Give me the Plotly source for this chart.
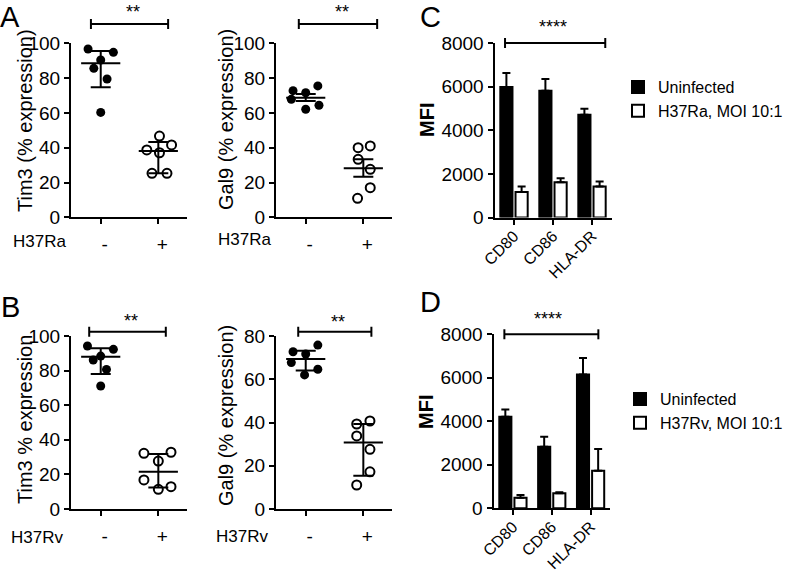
import plotly.graph_objects as go

W, H = 790, 572
FONT = "Liberation Sans, Arial, Helvetica, sans-serif"


def fx(p):
    return p / W


def fy(p):
    return 1 - p / H


# ---------------- data ----------------
groups = ["-", "+"]

# Panel A (H37Ra) - Tim3 (% expression), median with interquartile range
a_tim3_neg = [96.7, 94.8, 90.4, 85.6, 79.5, 60.3]
a_tim3_pos = [46.7, 38.7, 41.6, 37.1, 25.3, 25.3]
a_tim3_center = [88.5, 38.1]
a_tim3_low = [74.7, 25.3]
a_tim3_high = [95.6, 43.3]

# Panel A (H37Ra) - Gal9 (% expression), mean with SEM
a_gal9_neg = [72.8, 71.6, 75.5, 67.8, 64.4, 62.1]
a_gal9_pos = [40.0, 41.0, 33.3, 27.6, 17.0, 10.9]
a_gal9_center = [68.7, 28.2]
a_gal9_low = [66.8, 23.3]
a_gal9_high = [70.9, 33.3]

# Panel B (H37Rv) - Tim3 % expression
b_tim3_neg = [94.2, 92.3, 88.4, 86.1, 80.7, 71.1]
b_tim3_pos = [32.2, 32.8, 27.7, 16.8, 12.9, 11.4]
b_tim3_center = [88.0, 21.6]
b_tim3_low = [78.0, 12.5]
b_tim3_high = [92.9, 31.8]

# Panel B (H37Rv) - Gal9 (% expression)
b_gal9_neg = [72.7, 71.7, 75.8, 67.7, 64.6, 62.0]
b_gal9_pos = [39.3, 40.7, 33.8, 27.6, 17.2, 11.1]
b_gal9_center = [69.4, 30.7]
b_gal9_low = [64.0, 15.4]
b_gal9_high = [73.2, 39.3]

# horizontal scatter spread of the points (category units)
a_tim3_neg_spread = [-0.22, 0.22, 0.0, -0.12, 0.11, 0.0]
a_tim3_pos_spread = [0.02, -0.2, 0.23, 0.02, -0.11, 0.15]
a_gal9_neg_spread = [-0.22, 0.0, 0.21, -0.25, 0.23, 0.0]
a_gal9_pos_spread = [-0.09, 0.12, -0.09, 0.12, 0.12, -0.1]
b_tim3_neg_spread = [-0.23, 0.22, 0.0, -0.13, 0.10, 0.0]
b_tim3_pos_spread = [-0.25, 0.22, 0.0, -0.25, 0.22, 0.0]
b_gal9_neg_spread = [-0.22, 0.0, 0.21, -0.25, 0.21, -0.02]
b_gal9_pos_spread = [-0.115, 0.115, -0.115, 0.115, 0.115, -0.115]

# Panels C and D - MFI
markers = ["CD80", "CD86", "HLA-DR"]
c_uninf = [5980, 5810, 4710]
c_uninf_err = [640, 535, 275]
c_h37ra = [1165, 1620, 1420]
c_h37ra_err = [260, 185, 230]

d_uninf = [4206, 2830, 6150]
d_uninf_err = [340, 460, 765]
d_h37rv = [490, 690, 1730]
d_h37rv_err = [120, 50, 1000]

# ---------------- figure ----------------
fig = go.Figure()

dot_axes = {
    # name: (xaxis, yaxis, x domain px, y domain px (top,bottom), ymax, dtick)
    "a_tim3": ("x", "y", (71, 187.3), (43.3, 217.3), 100, 20),
    "a_gal9": ("x2", "y2", (276, 392.3), (43.3, 217.3), 100, 20),
    "b_tim3": ("x3", "y3", (71, 187.3), (336, 509), 100, 20),
    "b_gal9": ("x4", "y4", (276, 392.3), (336, 509), 80, 20),
}

dot_data = {
    "a_tim3": (a_tim3_neg, a_tim3_pos, a_tim3_neg_spread, a_tim3_pos_spread,
               a_tim3_center, a_tim3_low, a_tim3_high),
    "a_gal9": (a_gal9_neg, a_gal9_pos, a_gal9_neg_spread, a_gal9_pos_spread,
               a_gal9_center, a_gal9_low, a_gal9_high),
    "b_tim3": (b_tim3_neg, b_tim3_pos, b_tim3_neg_spread, b_tim3_pos_spread,
               b_tim3_center, b_tim3_low, b_tim3_high),
    "b_gal9": (b_gal9_neg, b_gal9_pos, b_gal9_neg_spread, b_gal9_pos_spread,
               b_gal9_center, b_gal9_low, b_gal9_high),
}

axis_common = dict(
    showline=True, linewidth=2, linecolor="black", mirror=False,
    ticks="outside", ticklen=5, tickwidth=2, tickcolor="black",
    showgrid=False, zeroline=False, fixedrange=True, automargin=False,
)

layout_axes = {}
for key, (xa, ya, (x0, x1), (ytop, ybot), ymax, dt) in dot_axes.items():
    neg, pos, nsp, psp, cen, lo, hi = dot_data[key]
    fig.add_trace(go.Scatter(
        x=[0 + s for s in nsp], y=neg, mode="markers",
        marker=dict(color="black", size=9, line=dict(width=0)),
        xaxis=xa, yaxis=ya, showlegend=False, hoverinfo="y"))
    fig.add_trace(go.Scatter(
        x=[1 + s for s in psp], y=pos, mode="markers",
        marker=dict(color="white", size=9, line=dict(color="black", width=2)),
        xaxis=xa, yaxis=ya, showlegend=False, hoverinfo="y"))
    for i in range(2):
        fig.add_trace(go.Scatter(
            x=[i - 0.34, i + 0.34], y=[cen[i], cen[i]], mode="lines",
            line=dict(color="black", width=2),
            xaxis=xa, yaxis=ya, showlegend=False, hoverinfo="skip"))
        fig.add_trace(go.Scatter(
            x=[i], y=[cen[i]], mode="markers",
            marker=dict(size=1, color="rgba(0,0,0,0)"),
            error_y=dict(type="data", symmetric=False,
                         array=[hi[i] - cen[i]], arrayminus=[cen[i] - lo[i]],
                         color="black", thickness=2, width=10),
            xaxis=xa, yaxis=ya, showlegend=False, hoverinfo="skip"))
    xname = "xaxis" if xa == "x" else "xaxis" + xa[1:]
    yname = "yaxis" if ya == "y" else "yaxis" + ya[1:]
    layout_axes[xname] = dict(
        axis_common, domain=[fx(x0), fx(x1)], range=[-0.516, 1.503],
        tickvals=[0, 1], ticktext=groups, anchor=ya,
        tickfont=dict(size=19, family=FONT, color="black"),
        ticklabelshift=4, ticklabelstandoff=4)
    layout_axes[yname] = dict(
        axis_common, domain=[fy(ybot), fy(ytop)], range=[0, ymax],
        dtick=dt, tick0=0, anchor=xa,
        tickfont=dict(size=19, family=FONT, color="black"))

# bar panels
bar_panels = [
    ("x5", "y5", (494.5, 611.5), (43, 217.5), c_uninf, c_uninf_err,
     c_h37ra, c_h37ra_err, "H37Ra, MOI 10:1", "legend"),
    ("x6", "y6", (493.5, 610), (334.3, 508.3), d_uninf, d_uninf_err,
     d_h37rv, d_h37rv_err, "H37Rv, MOI 10:1", "legend2"),
]
for xa, ya, (x0, x1), (ytop, ybot), u, ue, inf, ie, inf_name, lg in bar_panels:
    fig.add_trace(go.Bar(
        x=markers, y=u, name="Uninfected",
        marker=dict(color="black", line=dict(color="black", width=2)),
        error_y=dict(type="data", symmetric=False, array=ue,
                     arrayminus=[0] * len(ue), color="black",
                     thickness=2, width=4),
        xaxis=xa, yaxis=ya, legend=lg))
    fig.add_trace(go.Bar(
        x=markers, y=inf, name=inf_name,
        marker=dict(color="white", line=dict(color="black", width=2)),
        error_y=dict(type="data", symmetric=False, array=ie,
                     arrayminus=[0] * len(ie), color="black",
                     thickness=2, width=4),
        xaxis=xa, yaxis=ya, legend=lg))
    layout_axes["xaxis" + xa[1:]] = dict(
        axis_common, domain=[fx(x0), fx(x1)], type="category",
        range=[-0.5, 2.5], tickangle=-45, anchor=ya,
        ticklabelstandoff=-4,
        tickfont=dict(size=16, family=FONT, color="black"))
    layout_axes["yaxis" + ya[1:]] = dict(
        axis_common, domain=[fy(ybot), fy(ytop)], range=[0, 8000],
        dtick=2000, tick0=0, anchor=xa,
        tickfont=dict(size=19, family=FONT, color="black"))

# ---------------- annotations ----------------
ann = []


def text(s, xp, yp, size, bold=False, angle=0, xanchor="center",
         yanchor="middle"):
    ann.append(dict(
        text=("<b>%s</b>" % s) if bold else s, x=fx(xp), y=fy(yp),
        xref="paper", yref="paper", showarrow=False, textangle=angle,
        xanchor=xanchor, yanchor=yanchor, borderpad=0,
        font=dict(size=size, family=FONT, color="black")))


# panel letters
text("A", 10, 0, 29, yanchor="top")
text("B", 10, 307, 29)
text("C", 430, 0, 29, yanchor="top")
text("D", 430, 302, 29)

# y titles
text("Tim3 (% expression)", 25, 121, 20, angle=-90)
text("Gal9 (% expression)", 226, 120, 20, angle=-90)
text("Tim3 % expression", 25, 420, 20, angle=-90)
text("Gal9 (% expression)", 226, 416, 20, angle=-90)
text("MFI", 427, 120, 20, bold=True, angle=-90)
text("MFI", 426, 412, 20, bold=True, angle=-90)

# strain labels
text("H37Ra", 67, 241, 17, xanchor="right")
text("H37Ra", 272, 239, 17, xanchor="right")
text("H37Rv", 64, 537, 17, xanchor="right")
text("H37Rv", 269, 536, 17, xanchor="right")

# significance stars
text("**", 133, 12, 18)
text("**", 342, 12, 18)
text("**", 131, 321, 18)
text("**", 337.5, 322, 18)
text("****", 552.5, 27, 18)
text("****", 547.5, 319, 18)

# significance bars
shapes = []


def sig_bar(xref, x0, x1, ypx, half=5):
    line = dict(color="black", width=2)
    shapes.append(dict(type="line", xref=xref, yref="paper", x0=x0, x1=x1,
                       y0=fy(ypx), y1=fy(ypx), line=line))
    for xx in (x0, x1):
        shapes.append(dict(type="line", xref=xref, yref="paper", x0=xx, x1=xx,
                           y0=fy(ypx - half), y1=fy(ypx + half), line=line))


sig_bar("x", -0.17, 1.17, 24)
sig_bar("x2", -0.12, 1.24, 24)
sig_bar("x3", -0.2, 1.13, 331.7)
sig_bar("x4", -0.13, 1.14, 331.7)
sig_bar("x5", -0.23, 2.34, 43)
sig_bar("x6", -0.22, 2.2, 334.3)

legend_common = dict(
    xanchor="left", yanchor="top", bgcolor="rgba(0,0,0,0)",
    font=dict(size=16, family=FONT, color="black"),
    tracegroupgap=0, itemclick=False, itemdoubleclick=False,
)

fig.update_layout(
    width=W, height=H,
    margin=dict(l=0, r=0, t=0, b=0, pad=0, autoexpand=False),
    paper_bgcolor="white", plot_bgcolor="white",
    font=dict(family=FONT, color="black"),
    barmode="group", bargap=0.22, bargroupgap=0.2,
    showlegend=True,
    legend=dict(legend_common, x=fx(618), y=fy(70)),
    legend2=dict(legend_common, x=fx(620), y=fy(382)),
    annotations=ann, shapes=shapes,
    **layout_axes,
)

fig.write_html(
    "out.html",
    config={"displayModeBar": False, "staticPlot": False},
    post_script="document.body.style.margin='0';"
                "document.body.style.overflow='hidden';",
)
